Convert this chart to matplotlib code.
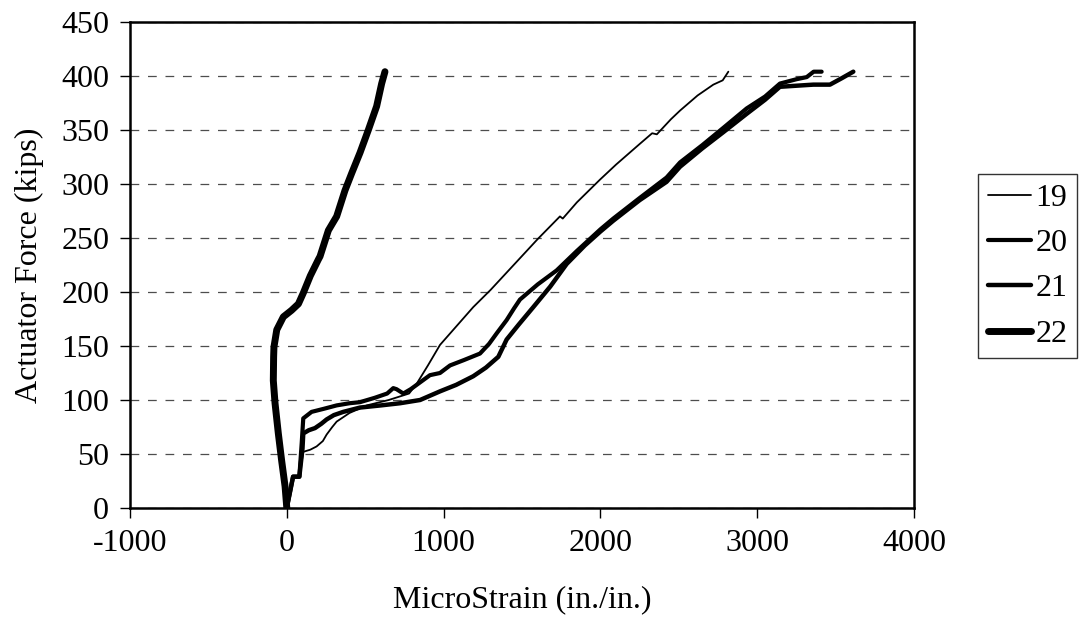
import matplotlib
matplotlib.use('Agg')
import matplotlib.pyplot as plt

plt.rcParams['font.family'] = ['Liberation Serif', 'DejaVu Serif']
plt.rcParams['axes.unicode_minus'] = False

# Series (microstrain, kips)
s19_x = [0, 40, 80, 105, 150, 190, 230, 254, 290, 318, 400, 510, 650, 780, 828, 900, 977,
         1080, 1189, 1300, 1466, 1600, 1742, 1760, 1850, 1997, 2100, 2250, 2330, 2360, 2450,
         2508, 2620, 2720, 2780, 2816]
s19_y = [0, 29, 29, 52, 54, 57, 62, 68, 75, 80, 88, 95, 100, 106, 115, 132, 151,
         168, 186, 202, 228, 249, 270, 268, 283, 304, 318, 337, 347, 346, 360,
         368, 382, 392, 396, 404]

s20_x = [0, 40, 80, 95, 105, 158, 240, 318, 400, 467, 560, 640, 679, 700, 743, 790, 828, 913,
         977, 1041, 1130, 1232, 1290, 1340, 1402, 1450, 1487, 1600, 1721, 1850, 2000, 2082,
         2250, 2422, 2508, 2650, 2784, 2933, 3050, 3145, 3250, 3316, 3360, 3411]
s20_y = [0, 29, 29, 60, 83, 89, 92, 95, 97, 98, 102, 106, 111, 110, 106, 110, 114, 123,
         125, 132, 137, 143, 152, 162, 174, 185, 193, 207, 220, 238, 258, 268,
         287, 306, 320, 336, 352, 370, 381, 393, 397, 399, 404, 404]

s21_x = [0, 40, 80, 100, 105, 140, 180, 220, 254, 300, 360, 467, 600, 722, 850, 977, 1080,
         1189, 1270, 1349, 1402, 1480, 1572, 1680, 1785, 1900, 2000, 2082, 2250, 2422, 2508,
         2650, 2784, 2933, 3050, 3145, 3250, 3358, 3464, 3540, 3613]
s21_y = [0, 29, 29, 55, 69, 72, 74, 78, 82, 86, 89, 93, 95, 97, 100, 108, 114,
         122, 130, 140, 156, 170, 186, 205, 226, 243, 256, 266, 285, 302, 316,
         333, 348, 365, 378, 390, 391, 392, 392, 398, 404]

s22_x = [0, -11, -33, -54, -75, -86, -84, -82, -64, -22, 30, 74, 105, 150, 201, 212, 265,
         318, 371, 414, 467, 520, 573, 605, 626]
s22_y = [0, 20, 44, 69, 97, 118, 140, 149, 165, 177, 183, 189, 199, 215, 230, 233, 257,
         270, 294, 310, 329, 350, 372, 393, 404]

labels = ['19', '20', '21', '22']
widths = [1.3, 3.0, 3.2, 5.0]

fig = plt.figure(figsize=(10.86, 6.32), dpi=100)
ax = fig.add_axes([130 / 1086, 1 - 508 / 632, (914 - 130) / 1086, (508 - 22) / 632])

series = [(s19_x, s19_y), (s20_x, s20_y), (s21_x, s21_y), (s22_x, s22_y)]
for (xs, ys), lab, lw in zip(series, labels, widths):
    ax.plot(xs, ys, color='black', lw=lw, label=lab, solid_capstyle='round', solid_joinstyle='round')

ax.set_xlim(-1000, 4000)
ax.set_ylim(0, 450)
ax.set_xticks(range(-1000, 4001, 1000))
ax.set_yticks(range(0, 451, 50))
ax.tick_params(direction='out', length=7, width=1, labelsize=23, pad=8)
ax.yaxis.grid(True, color='0.3', lw=0.9, linestyle=(0, (7, 7)))
ax.set_axisbelow(True)
for sp in ax.spines.values():
    sp.set_linewidth(1.8)

ax.set_xlabel('MicroStrain (in./in.)', fontsize=23, labelpad=20)
ax.set_ylabel('Actuator Force (kips)', fontsize=23, labelpad=12)

leg = ax.legend(loc='center left', bbox_to_anchor=(978 / 1086, 1 - 266 / 632),
                bbox_transform=fig.transFigure, fontsize=23, frameon=True, fancybox=False,
                edgecolor='black', handlelength=1.35, handletextpad=0.15, labelspacing=0.5,
                borderpad=0.3, borderaxespad=0)
leg.get_frame().set_linewidth(1.0)

fig.savefig('out.png', dpi=100)
